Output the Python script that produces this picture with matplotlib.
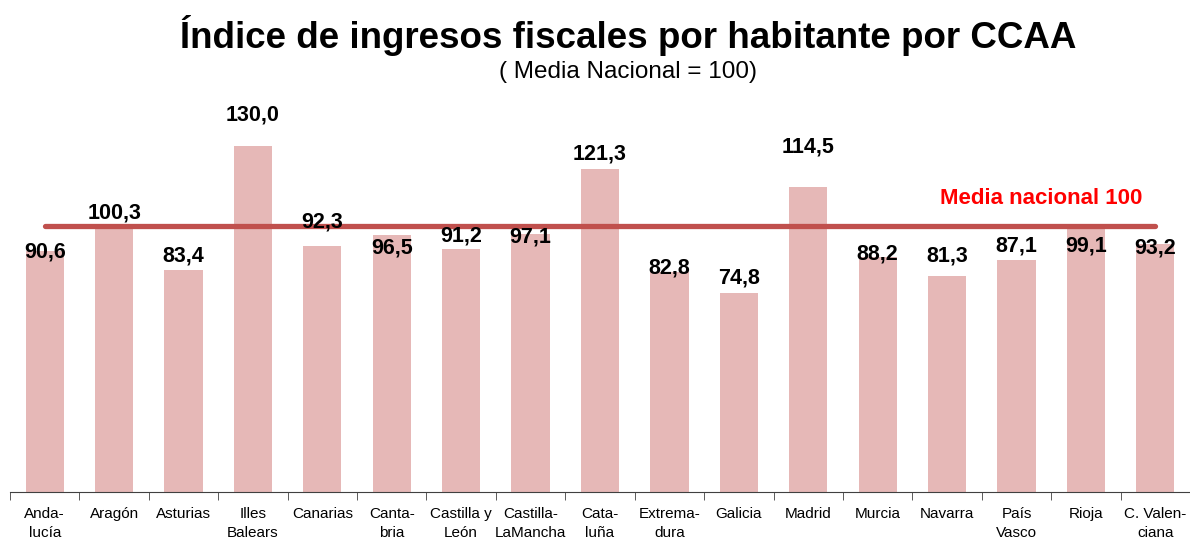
import matplotlib
matplotlib.use("Agg")
import matplotlib.pyplot as plt
from matplotlib import font_manager

# ── Data ──────────────────────────────────────────────────────────────────────
regions = ["Anda-\nlucía", "Aragón", "Asturias", "Illes\nBalears", "Canarias",
           "Canta-\nbria", "Castilla y\nLeón", "Castilla-\nLaMancha", "Cata-\nluña",
           "Extrema-\ndura", "Galicia", "Madrid", "Murcia", "Navarra",
           "País\nVasco", "Rioja", "C. Valen-\nciana"]
values = [90.6, 100.3, 83.4, 130.0, 92.3, 96.5, 91.2, 97.1, 121.3,
          82.8, 74.8, 114.5, 88.2, 81.3, 87.1, 99.1, 93.2]
# label centres (in index units) as placed by hand in the original chart
label_pos = [90.4, 104.7, 88.7, 141.7, 101.5, 91.7, 96.2, 95.7, 127.1,
             84.2, 80.3, 129.7, 89.5, 88.7, 92.3, 92.5, 91.9]
media = 100

names = {f.name for f in font_manager.fontManager.ttflist}
FONT = "Liberation Sans Narrow" if "Liberation Sans Narrow" in names else "Liberation Sans"
plt.rcParams["font.family"] = [FONT, "DejaVu Sans"]

BAR = "#E6B8B7"
LINE = "#C0504D"

fig = plt.figure(figsize=(11.9, 5.43), dpi=100)
ax = fig.add_axes([10 / 1190, 51 / 543, 1180 / 1190, 397 / 543])

x = list(range(len(values)))
ax.bar(x, values, width=0.55, color=BAR, zorder=1)
ax.plot([x[0], x[-1]], [media, media], color=LINE, lw=3.8,
        solid_capstyle="round", zorder=2)

for xi, v, ly in zip(x, values, label_pos):
    ax.text(xi, ly, f"{v:.1f}".replace(".", ","), ha="center", va="center",
            fontsize=15.5, fontweight="bold", color="black", zorder=3)

ax.text(14.35, 110.5, "Media nacional 100", ha="center", va="center",
        fontsize=16, fontweight="bold", color="#FF0000")

ax.set_xlim(-0.5, len(values) - 0.5)
ax.set_ylim(0, 397 / 2.66)
ax.set_yticks([])
ax.set_xticks(x)
ax.set_xticklabels(regions, fontsize=11, linespacing=1.45)
ax.set_xticks([i - 0.5 for i in range(len(values) + 1)], minor=True)
ax.tick_params(axis="x", which="major", length=0, pad=11)
ax.tick_params(axis="x", which="minor", length=6, direction="out", color="#404040")
for s in ["top", "right", "left"]:
    ax.spines[s].set_visible(False)
ax.spines["bottom"].set_color("#404040")

fig.text(0.528, 0.935, "Índice de ingresos fiscales por habitante por CCAA",
         ha="center", va="center", fontsize=26.5, fontweight="bold")
fig.text(0.528, 0.867, "( Media Nacional = 100)", ha="center", va="center",
         fontsize=17.5)

fig.savefig("out.png", dpi=100)
